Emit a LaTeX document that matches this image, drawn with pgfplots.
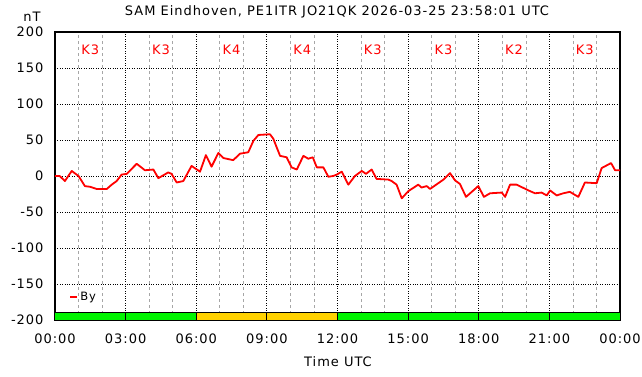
\documentclass[border=0pt]{standalone}
\usepackage{pgfplots}
\pgfplotsset{compat=1.18}
\usepackage{fontspec}
\setmainfont{DejaVu Sans}[LetterSpace=7.5]
\definecolor{kgreen}{RGB}{0,245,0}
\definecolor{kgold}{RGB}{255,210,0}
\newcommand{\fs}{\fontsize{13}{15}\selectfont}
\begin{document}
\begin{tikzpicture}[x=1pt,y=1pt]
\path[use as bounding box] (0,0) rectangle (642,376);
\begin{axis}[
  at={(55pt,56pt)}, anchor=south west,
  scale only axis, width=565pt, height=288pt,
  xmin=0, xmax=24, ymin=-200, ymax=200,
  xtick={0,3,...,24},
  xticklabels={00:00,03:00,06:00,09:00,12:00,15:00,18:00,21:00,00:00},
  minor xtick={1,2,4,5,7,8,10,11,13,14,16,17,19,20,22,23},
  ytick={-200,-150,...,200},
  grid=both,
  major grid style={black, dotted, line width=0.8pt},
  minor grid style={gray!70, dashed, line width=0.6pt},
  axis line style={black, line width=1.2pt},
  tick style={draw=none},
  tick label style={font=\fs},
  /pgf/number format/assume math mode=true,
  xticklabel style={yshift=-10pt},
  yticklabel style={xshift=-8pt},
  legend style={at={(axis cs:0.6,-168)}, anchor=west, draw=none, fill=none,
     font=\fontsize{11.5}{12}\selectfont, inner sep=0pt,
     /tikz/every even column/.append style={column sep=0pt}},
  legend image code/.code={\draw[#1, line width=2pt] (0pt,0pt) -- (7pt,0pt);},
  clip=true,
]
% K-index blocks
\addplot[fill=kgreen, draw=black, line width=1pt, forget plot] coordinates {(0,-200) (3,-200) (3,-190) (0,-190)} -- cycle;
\addplot[fill=kgreen, draw=black, line width=1pt, forget plot] coordinates {(3,-200) (6,-200) (6,-190) (3,-190)} -- cycle;
\addplot[fill=kgold, draw=black, line width=1pt, forget plot] coordinates {(6,-200) (9,-200) (9,-190) (6,-190)} -- cycle;
\addplot[fill=kgold, draw=black, line width=1pt, forget plot] coordinates {(9,-200) (12,-200) (12,-190) (9,-190)} -- cycle;
\addplot[fill=kgreen, draw=black, line width=1pt, forget plot] coordinates {(12,-200) (15,-200) (15,-190) (12,-190)} -- cycle;
\addplot[fill=kgreen, draw=black, line width=1pt, forget plot] coordinates {(15,-200) (18,-200) (18,-190) (15,-190)} -- cycle;
\addplot[fill=kgreen, draw=black, line width=1pt, forget plot] coordinates {(18,-200) (21,-200) (21,-190) (18,-190)} -- cycle;
\addplot[fill=kgreen, draw=black, line width=1pt, forget plot] coordinates {(21,-200) (24,-200) (24,-190) (21,-190)} -- cycle;
% K labels
\node[red, font=\fs] at (axis cs:1.5,175) {K3};
\node[red, font=\fs] at (axis cs:4.5,175) {K3};
\node[red, font=\fs] at (axis cs:7.5,175) {K4};
\node[red, font=\fs] at (axis cs:10.5,175) {K4};
\node[red, font=\fs] at (axis cs:13.5,175) {K3};
\node[red, font=\fs] at (axis cs:16.5,175) {K3};
\node[red, font=\fs] at (axis cs:19.5,175) {K2};
\node[red, font=\fs] at (axis cs:22.5,175) {K3};
% By trace
\addplot[red, line width=1.8pt, line join=round] coordinates {
(0,0) (0.2,0) (0.42,-7) (0.71,7) (1.0,0) (1.27,-14) (1.49,-15) (1.77,-18) (2.2,-18)
(2.41,-12) (2.62,-7) (2.83,2) (3.05,3) (3.47,17) (3.82,8) (4.18,9) (4.39,-3)
(4.81,5) (4.95,3) (5.17,-9) (5.45,-7) (5.8,14) (6.16,6) (6.41,29) (6.65,13)
(6.94,32) (7.15,25) (7.57,22) (7.86,31) (8.21,33) (8.43,49) (8.64,57) (9.13,58)
(9.27,52) (9.56,28) (9.84,26) (10.05,12) (10.27,9) (10.55,28) (10.76,24) (10.95,26)
(11.12,12) (11.4,12) (11.61,-1) (11.82,0) (11.97,2) (12.18,6) (12.46,-12) (12.74,0)
(13.03,7) (13.21,3) (13.45,9) (13.66,-4) (14.16,-5) (14.3,-7) (14.51,-12) (14.73,-31)
(15.01,-21) (15.43,-12) (15.57,-16) (15.79,-14) (15.93,-18) (16.5,-5) (16.78,4) (16.99,-6)
(17.2,-11) (17.46,-29) (17.98,-14) (18.22,-29) (18.48,-24) (18.98,-23) (19.12,-29) (19.33,-12)
(19.61,-12) (20.11,-20) (20.39,-24) (20.67,-23) (20.89,-27) (21.03,-20) (21.31,-27) (21.59,-24)
(21.87,-22) (22.23,-29) (22.51,-9) (23.01,-10) (23.22,11) (23.62,18) (23.79,8) (24,8)
};
\addlegendentry{By}
\end{axis}
\node[font=\fs] at (337,364) {SAM Eindhoven, PE1ITR JO21QK 2026-03-25 23:58:01 UTC};
\node[font=\fs] at (32,359) {nT};
\node[font=\fs] at (338,14) {Time UTC};
\end{tikzpicture}
\end{document}
